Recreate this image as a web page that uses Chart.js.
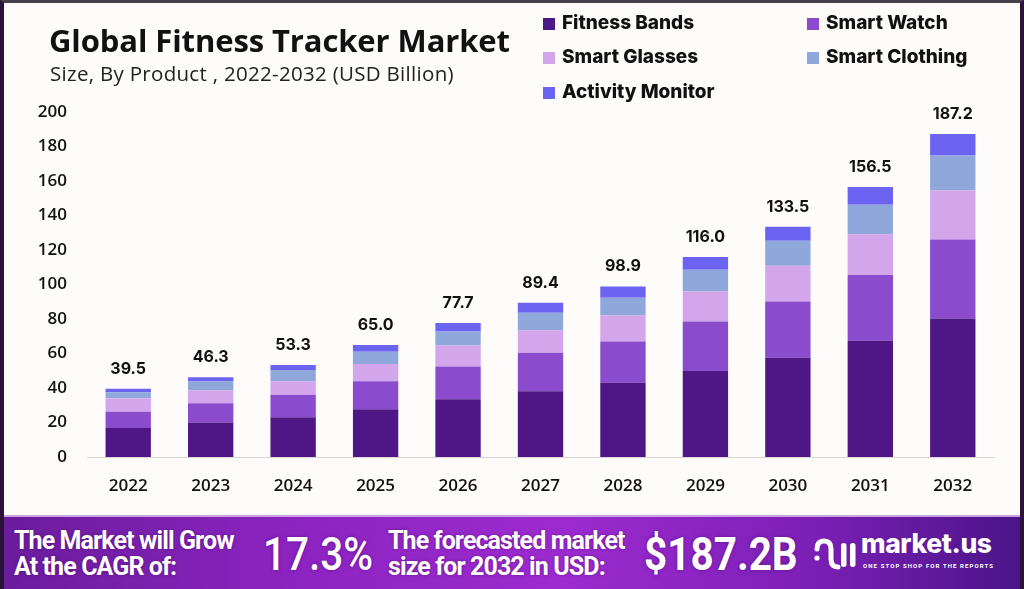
<!DOCTYPE html>
<html><head><meta charset="utf-8">
<script src="https://cdn.jsdelivr.net/npm/chart.js@4"></script>
<style>
html,body{margin:0;padding:0;}
body{width:1024px;height:589px;position:relative;overflow:hidden;background:#fdfcfb;font-family:'Open Sans',sans-serif;}
#frame{position:absolute;left:0;top:0;width:1024px;height:589px;box-sizing:border-box;border-left:4px solid #2c1238;border-top:3px solid #45404a;border-right:4px solid #2c1238;pointer-events:none;z-index:5;}
#wrap{position:absolute;left:0;top:0;width:1024px;height:515px;}
#title{position:absolute;left:49px;top:20px;font-family:'Open Sans',sans-serif;font-weight:700;font-size:31px;letter-spacing:-0.1px;color:#111;white-space:nowrap;line-height:40px;}
#subtitle{position:absolute;left:50px;top:59px;font-family:'Open Sans',sans-serif;font-weight:400;font-size:20.5px;letter-spacing:0.3px;color:#222;white-space:nowrap;line-height:28px;}
.lg{position:absolute;font-family:Inter,sans-serif;font-weight:800;font-size:19px;color:#111;white-space:nowrap;line-height:24px;}
.lg span{display:inline-block;width:12px;height:12px;margin-right:7px;vertical-align:-1px;}
#banner{position:absolute;left:0;top:515px;width:1024px;height:74px;background:linear-gradient(90deg,#6a1c9c 0%,#8d24c2 30%,#9c2bcf 55%,#7e20b8 78%,#4a1488 100%);border-top:2px solid #c9a3e0;box-sizing:border-box;color:#fff;font-family:Roboto,sans-serif;}
.bt{position:absolute;font-weight:700;font-size:25px;line-height:26px;letter-spacing:-0.9px;white-space:nowrap;text-shadow:0 0 3px rgba(60,0,90,.5);}
.big{position:absolute;font-weight:500;font-size:46px;line-height:50px;white-space:nowrap;text-shadow:0 0 4px rgba(60,0,90,.5);transform:scaleX(0.88);transform-origin:left center;}
#logo{position:absolute;left:861px;top:10px;font-family:Inter,sans-serif;font-weight:800;font-size:26.5px;line-height:32px;letter-spacing:-0.4px;}
#tag{position:absolute;left:863px;top:45px;font-family:Roboto,sans-serif;font-weight:700;font-size:6px;letter-spacing:1.1px;white-space:nowrap;}
</style></head>
<body>
<div id="wrap"><canvas id="c" width="1024" height="515"></canvas></div>
<div id="title">Global Fitness Tracker Market</div>
<div id="subtitle">Size, By Product , 2022-2032 (USD Billion)</div>
<div id="legend"></div>
<div id="banner">
  <div class="bt" style="left:14px;top:11px;">The Market will Grow<br>At the CAGR of:</div>
  <div class="big" style="left:263px;top:12px;">17.3%</div>
  <div class="bt" style="left:388px;top:11px;">The forecasted market<br>size for 2032 in USD:</div>
  <div class="big" style="left:644px;top:12px;font-weight:700;">$187.2B</div>
  <svg style="position:absolute;left:812px;top:20px" width="46" height="40" viewBox="0 0 46 40">
    <path d="M5 12 q0 -8 7 -8 q7 0 7 8 v10 q0 8 7 8" stroke="#fff" stroke-width="5" fill="none" stroke-linecap="round"/>
    <circle cx="5" cy="21" r="2.6" fill="#fff"/>
    <rect x="29" y="6" width="5.5" height="24" rx="2.7" fill="#fff"/>
    <rect x="38" y="6" width="5.5" height="24" rx="2.7" fill="#fff"/>
  </svg>
  <div id="logo">market.us</div>
  <div id="tag">ONE STOP SHOP FOR THE REPORTS</div>
</div>
<div id="frame"></div>
<script>
const years = ['2022','2023','2024','2025','2026','2027','2028','2029','2030','2031','2032'];
const seriesNames = ['Fitness Bands','Smart Watch','Smart Glasses','Smart Clothing','Activity Monitor'];
const fitnessBands   = [16.8, 20.0, 23.0, 27.7, 33.5, 38.1, 43.0, 49.9, 57.6, 67.4, 80.3];
const smartWatch     = [ 9.5, 11.2, 13.1, 16.2, 18.9, 22.3, 23.9, 28.6, 32.6, 38.1, 45.8];
const smartGlasses   = [ 7.7,  7.3,  7.8, 10.0, 12.3, 13.1, 15.1, 17.5, 20.7, 23.7, 28.4];
const smartClothing  = [ 3.5,  5.2,  6.5,  7.1,  8.1, 10.1, 10.3, 12.5, 14.5, 17.0, 20.3];
const activityMonitor= [ 2.0,  2.6,  2.9,  4.0,  4.9,  5.8,  6.6,  7.5,  8.1, 10.3, 12.4];
const totalLabels = ['39.5','46.3','53.3','65.0','77.7','89.4','98.9','116.0','133.5','156.5','187.2'];
const colors = ['#4f1786','#8a4ccd','#d3a5ea','#8fa7db','#6d63f3'];

const allSeries = [fitnessBands, smartWatch, smartGlasses, smartClothing, activityMonitor];

// legend
const legendPos = [[543,11],[807,11],[543,45],[807,45],[543,80]];
const lgEl = document.getElementById('legend');
seriesNames.forEach((n,i)=>{
  const d=document.createElement('div'); d.className='lg';
  d.style.left=legendPos[i][0]+'px'; d.style.top=legendPos[i][1]+'px';
  d.innerHTML='<span style="background:'+colors[i]+'"></span>'+n;
  lgEl.appendChild(d);
});

const totalsPlugin = {
  id:'totals',
  afterDatasetsDraw(chart){
    const ctx=chart.ctx;
    const last=chart.getDatasetMeta(chart.data.datasets.length-1);
    ctx.save();
    ctx.font='700 16px Inter, sans-serif';
    ctx.fillStyle='#111';
    ctx.textAlign='center';
    ctx.textBaseline='bottom';
    last.data.forEach((el,i)=>{ ctx.fillText(totalLabels[i], el.x, el.y-12); });
    ctx.restore();
  }
};

new Chart(document.getElementById('c'),{
  type:'bar',
  data:{
    labels:years,
    datasets:allSeries.map((s,i)=>({label:seriesNames[i],data:s,backgroundColor:colors[i],barPercentage:0.55,categoryPercentage:1.0,borderWidth:0}))
  },
  options:{
    responsive:false,animation:false,
    layout:{padding:{top:112,left:0,right:30,bottom:0}},
    plugins:{legend:{display:false},tooltip:{enabled:false}},
    scales:{
      x:{stacked:true,grid:{display:false,drawTicks:false},border:{display:true,color:'#d6d6d6',width:1},
         ticks:{padding:19,color:'#111',font:{family:'Open Sans',size:17,weight:'600'}},
         afterFit(s){s.height=58;}},
      y:{stacked:true,min:0,max:200,grid:{display:false,drawTicks:false},border:{display:false},
         ticks:{stepSize:20,padding:20,color:'#111',font:{family:'Open Sans',size:17,weight:'600'}},
         afterFit(s){s.width=87;}}
    }
  },
  plugins:[totalsPlugin]
});
</script>
</body></html>
